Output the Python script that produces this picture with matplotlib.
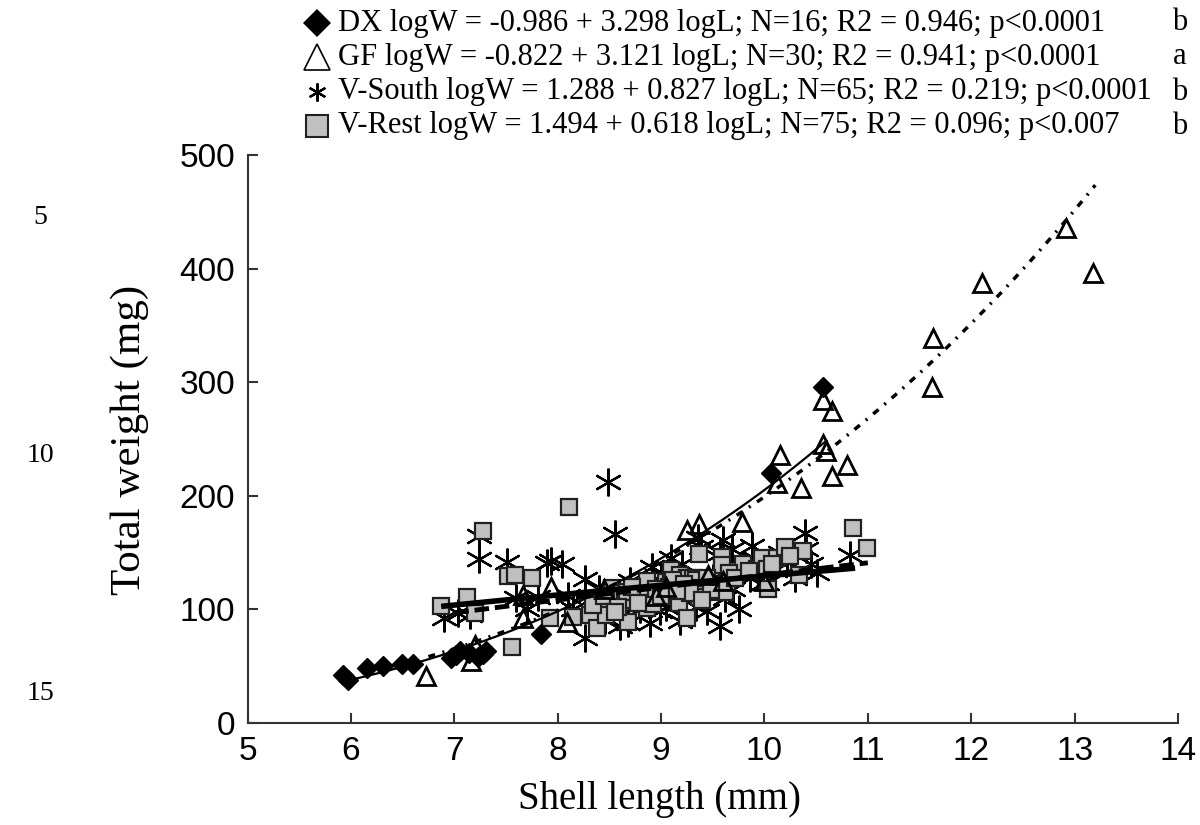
import numpy as np
import matplotlib
matplotlib.use("Agg")
import matplotlib.pyplot as plt
from matplotlib.lines import Line2D

# DX (filled diamonds)
dx_len = [5.92, 5.97, 6.16, 6.31, 6.49, 6.60, 6.97, 7.02, 7.06, 7.14, 7.23, 7.28, 7.31, 7.84, 10.06, 10.57]
dx_wt = [42, 38, 48, 50, 52, 52, 57, 60, 63, 62, 58, 61, 63, 78, 220, 296]

# GF (open triangles)
gf_len = [6.73, 7.16, 7.20, 7.66, 7.66, 7.94, 8.09, 8.45, 9.05, 9.25, 9.37, 9.45, 9.78,
          10.12, 10.15, 10.35, 10.57, 10.60, 10.57, 10.65, 10.65, 10.80, 11.62, 11.63,
          12.10, 12.92, 13.18, 8.95, 9.60, 10.00]
gf_wt = [41, 55, 69, 92, 113, 120, 89, 118, 120, 170, 175, 130, 177,
         211, 236, 207, 246, 239, 284, 275, 217, 227, 296, 339,
         387, 436, 396, 112, 125, 125]

# V-South (asterisks)
vs_len = [6.90, 7.04, 7.15, 7.24, 7.24, 7.51, 7.81, 7.90, 8.04, 8.26,
          8.26, 8.49, 8.55, 8.91, 9.39, 9.69, 9.88, 9.57, 9.44, 9.18,
          9.05, 8.60, 10.02, 10.22, 10.39, 10.40, 10.51, 10.83, 9.36, 9.60,
          9.57, 9.07, 8.99, 8.89, 8.68, 8.46, 9.15, 9.34, 9.86, 9.99,
          7.94, 8.35, 8.75, 8.80, 9.25, 9.50, 9.70, 9.80, 10.10, 10.30,
          8.15, 8.40, 8.70, 9.00, 9.20, 9.62, 9.90, 10.15, 10.45, 7.60,
          7.70, 8.10, 8.30, 9.10, 9.75]
vs_wt = [92, 97, 95, 165, 144, 142, 111, 141, 140, 127,
         75, 212, 166, 137, 155, 153, 156, 85, 99, 90,
         102, 85, 123, 142, 167, 153, 132, 148, 163, 161,
         150, 111, 99, 88, 88, 91, 121, 102, 128, 123,
         143, 105, 115, 100, 118, 128, 118, 140, 135, 128,
         100, 118, 125, 130, 140, 110, 145, 150, 140, 110,
         100, 112, 95, 145, 100]

# V-Rest (grey squares)
vr_len = [6.87, 7.12, 7.20, 7.28, 7.52, 7.59, 7.75, 7.56, 7.93, 8.11,
          8.15, 8.31, 8.38, 8.41, 8.49, 8.47, 8.53, 8.62, 8.65, 8.67,
          8.68, 8.83, 8.86, 8.86, 8.86, 8.92, 9.05, 9.08, 9.10, 9.17,
          9.18, 9.25, 9.25, 9.31, 9.34, 9.37, 9.37, 9.37, 9.52, 9.54,
          9.59, 9.59, 9.62, 9.64, 9.79, 9.93, 9.98, 10.02, 10.03, 10.12,
          10.20, 10.33, 10.37, 10.86, 10.99, 8.34, 8.45, 8.58, 8.72, 8.78,
          8.95, 9.00, 9.12, 9.22, 9.28, 9.44, 9.48, 9.66, 9.72, 9.85,
          10.07, 10.25, 9.15, 8.55, 9.40]
vr_wt = [103, 111, 97, 169, 129, 130, 128, 67, 92, 190,
         93, 95, 84, 107, 105, 95, 119, 114, 108, 115,
         89, 111, 117, 125, 101, 105, 124, 120, 135, 106,
         130, 128, 92, 128, 126, 149, 119, 111, 120, 115,
         146, 139, 115, 124, 140, 136, 145, 136, 118, 145,
         155, 130, 151, 172, 154, 104, 112, 102, 120, 106,
         118, 112, 126, 122, 114, 128, 117, 132, 128, 134,
         140, 147, 116, 98, 108]

# regression lines: logW = a + b logL
groups = ["DX", "GF", "V-South", "V-Rest"]
fit_a = [-0.986, -0.822, 1.288, 1.494]
fit_b = [3.298, 3.121, 0.827, 0.618]
fit_range = [(5.95, 10.6), (6.75, 13.2), (7.0, 11.0), (6.9, 10.85)]
legend_text = [
    "DX logW = -0.986 + 3.298 logL; N=16; R2 = 0.946; p<0.0001",
    "GF logW = -0.822 + 3.121 logL; N=30; R2 = 0.941; p<0.0001",
    "V-South logW = 1.288 + 0.827 logL; N=65; R2 = 0.219; p<0.0001",
    "V-Rest logW = 1.494 + 0.618 logL; N=75; R2 = 0.096; p<0.007",
]
letters = ["b", "a", "b", "b"]
line_numbers = ["5", "10", "15"]

serif = "Liberation Serif"
sans = "Liberation Sans"

fig = plt.figure(figsize=(12, 8.25), dpi=100)
W, H = 1200.0, 825.0
ax = fig.add_axes([247.5 / W, 1 - 723 / H, (1178 - 247.5) / W, (723 - 155) / H])

asterisk = (6, 2, 0)
ax.plot(vs_len, vs_wt, linestyle="none", marker=asterisk, ms=20, mew=1.6,
        color="black", zorder=2)
ax.plot(vr_len, vr_wt, linestyle="none", marker="s", ms=11, mew=1.6,
        mfc="#c0c0c0", mec="#202020", zorder=3)
ax.plot(gf_len, gf_wt, linestyle="none", marker="^", ms=12.5, mew=2,
        mfc="none", mec="black", zorder=4)
ax.plot(dx_len, dx_wt, linestyle="none", marker="D", ms=10, mew=1,
        color="black", zorder=5)

styles = [
    dict(lw=1.6, linestyle="-"),
    dict(lw=2.5, linestyle=(0, (2, 2.2, 0.6, 2.2))),
    dict(lw=3.5, linestyle=(0, (3, 1.2))),
    dict(lw=4, linestyle="-"),
]
for a, b, (x0, x1), st in zip(fit_a, fit_b, fit_range, styles):
    L = np.linspace(x0, x1, 200)
    ax.plot(L, 10 ** (a + b * np.log10(L)), color="black", zorder=6, **st)

ax.set_xlim(5, 14)
ax.set_ylim(0, 500)
ax.set_xticks(range(5, 15))
ax.set_yticks(range(0, 501, 100))
for s in ["top", "right"]:
    ax.spines[s].set_visible(False)
for s in ["left", "bottom"]:
    ax.spines[s].set_linewidth(1.5)
    ax.spines[s].set_color("#333333")
ax.tick_params(direction="in", length=7, width=1.5, color="#333333",
               labelsize=24, pad=9)
for lab in ax.get_xticklabels() + ax.get_yticklabels():
    lab.set_family(sans)

fig.text(660 / W, 1 - 800 / H, "Shell length (mm)", family=serif, fontsize=28,
         ha="center", va="center")
fig.text(130 / W, 1 - 440 / H, "Total weight (mg)", family=serif, fontsize=31,
         ha="center", va="center", rotation=90)

for t, yp in zip(line_numbers, [218, 455, 693]):
    fig.text(40 / W, 1 - yp / H, t, family=serif, fontsize=20, ha="center", va="center")

# legend rows
leg_y = [23, 57, 92, 126]
leg_markers = [
    dict(marker="D", ms=14, color="black", mew=0),
    dict(marker="^", ms=19, mfc="none", mec="black", mew=1.2),
    dict(marker=asterisk, ms=13, color="black", mew=1.6),
    dict(marker="s", ms=16, mfc="#c0c0c0", mec="#202020", mew=1.5),
]
for yp, mk, txt, let in zip(leg_y, leg_markers, legend_text, letters):
    fig.add_artist(Line2D([317 / W], [1 - yp / H], linestyle="none",
                          transform=fig.transFigure, **mk))
    fig.text(338 / W, 1 - yp / H, txt, family=serif, fontsize=22,
             ha="left", va="center")
    fig.text(1180 / W, 1 - yp / H, let, family=serif, fontsize=22,
             ha="center", va="center")

fig.savefig("out.png", dpi=100)
